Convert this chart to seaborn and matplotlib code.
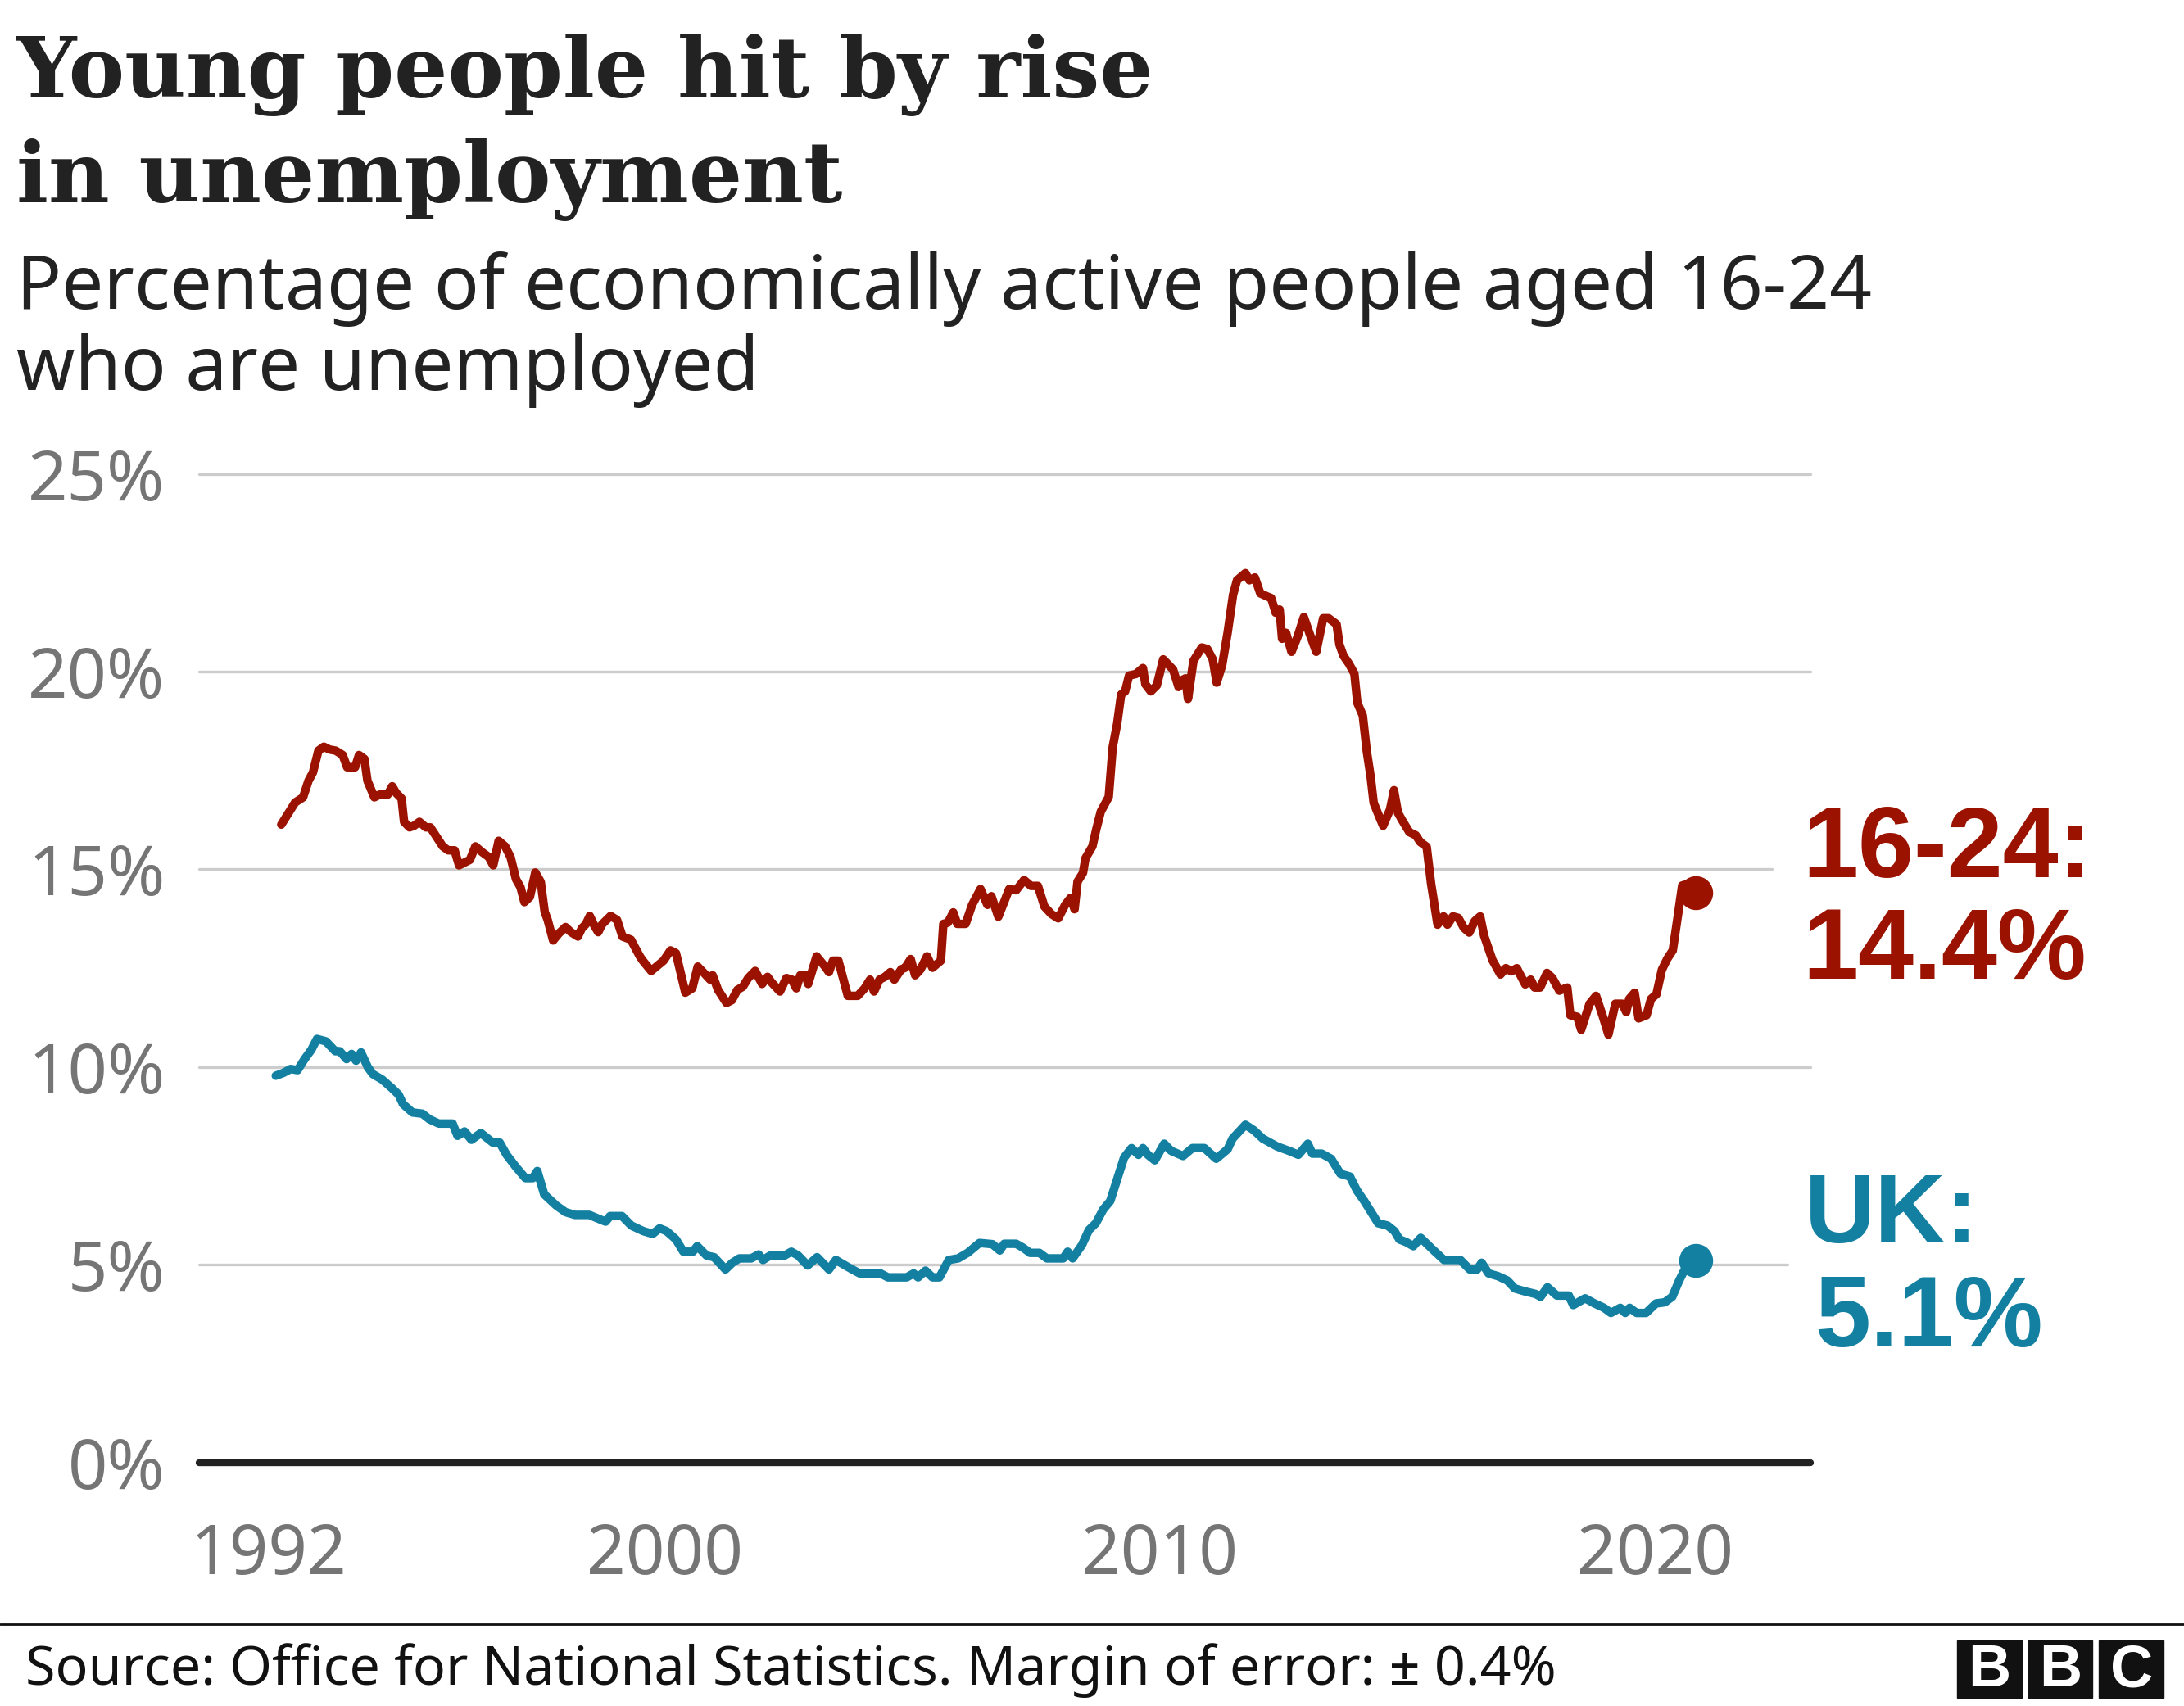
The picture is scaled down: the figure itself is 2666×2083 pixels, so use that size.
import matplotlib
matplotlib.use("Agg")
import matplotlib.pyplot as plt
import seaborn as sns
import pandas as pd
from matplotlib.patches import Rectangle
from matplotlib.lines import Line2D

# 16-24 unemployment rate (%), rolling three-month figures
young_year = [
    1992.26, 1992.40, 1992.54, 1992.70, 1992.81, 1992.90, 1993.01, 1993.12, 1993.23, 1993.36,
    1993.50, 1993.59, 1993.75, 1993.83, 1993.94, 1994.00, 1994.14, 1994.25, 1994.41, 1994.50,
    1994.58, 1994.69, 1994.74, 1994.85, 1994.94, 1995.05, 1995.18, 1995.27, 1995.41, 1995.52,
    1995.63, 1995.76, 1995.85, 1995.96, 1996.07, 1996.18, 1996.31, 1996.45, 1996.54, 1996.65,
    1996.78, 1996.89, 1997.00, 1997.09, 1997.17, 1997.28, 1997.39, 1997.50, 1997.58, 1997.64,
    1997.75, 1997.86, 1998.00, 1998.11, 1998.25, 1998.33, 1998.41, 1998.49, 1998.58, 1998.66,
    1998.74, 1998.91, 1999.04, 1999.15, 1999.32, 1999.50, 1999.56, 1999.73, 1999.98, 2000.12,
    2000.23, 2000.42, 2000.56, 2000.67, 2000.81, 2000.92, 2000.97, 2001.08, 2001.25, 2001.36,
    2001.47, 2001.58, 2001.69, 2001.83, 2001.97, 2002.08, 2002.16, 2002.33, 2002.46, 2002.57,
    2002.66, 2002.74, 2002.85, 2002.90, 2003.07, 2003.24, 2003.32, 2003.40, 2003.51, 2003.70,
    2003.90, 2004.04, 2004.15, 2004.23, 2004.34, 2004.45, 2004.56, 2004.64, 2004.78, 2004.86,
    2004.97, 2005.06, 2005.17, 2005.30, 2005.41, 2005.58, 2005.63, 2005.72, 2005.83, 2005.91,
    2006.08, 2006.21, 2006.38, 2006.52, 2006.60, 2006.74, 2006.96, 2007.10, 2007.26, 2007.40,
    2007.54, 2007.67, 2007.81, 2007.95, 2008.09, 2008.20, 2008.28, 2008.34, 2008.45, 2008.50,
    2008.64, 2008.72, 2008.81, 2008.97, 2009.05, 2009.14, 2009.22, 2009.30, 2009.38, 2009.52,
    2009.66, 2009.71, 2009.82, 2009.94, 2010.07, 2010.27, 2010.38, 2010.46, 2010.52, 2010.57,
    2010.68, 2010.85, 2010.96, 2011.07, 2011.15, 2011.26, 2011.37, 2011.48, 2011.56, 2011.73,
    2011.81, 2011.92, 2012.03, 2012.17, 2012.25, 2012.34, 2012.42, 2012.47, 2012.55, 2012.66,
    2012.78, 2012.91, 2013.02, 2013.16, 2013.30, 2013.41, 2013.57, 2013.63, 2013.71, 2013.82,
    2013.93, 2013.99, 2014.10, 2014.18, 2014.26, 2014.32, 2014.40, 2014.51, 2014.65, 2014.73,
    2014.81, 2014.90, 2015.04, 2015.17, 2015.26, 2015.39, 2015.48, 2015.61, 2015.73, 2015.81,
    2015.92, 2016.03, 2016.14, 2016.25, 2016.36, 2016.47, 2016.55, 2016.72, 2016.88, 2016.99,
    2017.10, 2017.21, 2017.38, 2017.49, 2017.57, 2017.68, 2017.82, 2017.93, 2018.07, 2018.23,
    2018.29, 2018.43, 2018.51, 2018.68, 2018.81, 2018.95, 2019.06, 2019.20, 2019.34, 2019.42,
    2019.48, 2019.59, 2019.67, 2019.83, 2019.92, 2020.03, 2020.14, 2020.25, 2020.36, 2020.47,
    2020.55, 2020.66, 2020.82,
]
young_rate = [
    16.13, 16.41, 16.69, 16.82, 17.24, 17.45, 18.00, 18.10, 18.03, 18.00,
    17.89, 17.58, 17.58, 17.89, 17.79, 17.24, 16.82, 16.89, 16.89, 17.10,
    16.93, 16.79, 16.20, 16.06, 16.10, 16.20, 16.06, 16.06, 15.79, 15.58,
    15.48, 15.48, 15.10, 15.17, 15.24, 15.58, 15.44, 15.31, 15.10, 15.72,
    15.58, 15.31, 14.75, 14.55, 14.17, 14.30, 14.92, 14.68, 13.92, 13.72,
    13.20, 13.37, 13.54, 13.41, 13.30, 13.51, 13.61, 13.82, 13.58, 13.41,
    13.61, 13.82, 13.72, 13.30, 13.22, 12.80, 12.69, 12.43, 12.69, 12.95,
    12.88, 11.88, 11.99, 12.54, 12.36, 12.21, 12.32, 11.95, 11.62, 11.69,
    11.95, 12.03, 12.25, 12.43, 12.10, 12.28, 12.14, 11.91, 12.25, 12.21,
    11.99, 12.32, 12.32, 12.10, 12.80, 12.54, 12.40, 12.69, 12.69, 11.80,
    11.80, 11.99, 12.21, 11.91, 12.21, 12.28, 12.40, 12.21, 12.47, 12.51,
    12.73, 12.32, 12.47, 12.80, 12.51, 12.69, 13.62, 13.65, 13.91, 13.62,
    13.62, 14.10, 14.50, 14.10, 14.32, 13.80, 14.50, 14.47, 14.73, 14.58,
    14.58, 14.06, 13.87, 13.76, 14.10, 14.28, 13.99, 14.69, 14.91, 15.28,
    15.58, 16.02, 16.46, 16.83, 18.09, 18.68, 19.42, 19.50, 19.90, 19.94,
    20.09, 19.68, 19.50, 19.65, 20.31, 20.05, 19.61, 19.79, 19.83, 19.31,
    20.27, 20.61, 20.57, 20.31, 19.72, 20.16, 20.98, 21.94, 22.31, 22.49,
    22.31, 22.38, 21.98, 21.90, 21.86, 21.49, 21.57, 20.83, 20.98, 20.50,
    20.87, 21.38, 20.98, 20.50, 21.35, 21.35, 21.20, 20.68, 20.40, 20.20,
    19.95, 19.21, 18.89, 17.99, 17.33, 16.68, 16.43, 16.10, 16.51, 17.00,
    16.43, 16.23, 15.94, 15.86, 15.69, 15.57, 14.63, 13.60, 13.81, 13.60,
    13.81, 13.77, 13.52, 13.40, 13.69, 13.81, 13.32, 12.70, 12.34, 12.50,
    12.42, 12.50, 12.09, 12.21, 12.01, 12.01, 12.38, 12.25, 11.93, 12.01,
    11.31, 11.27, 10.94, 11.60, 11.80, 11.27, 10.82, 11.60, 11.60, 11.39,
    11.72, 11.88, 11.23, 11.31, 11.72, 11.84, 12.46, 12.74, 12.95, 13.89,
    14.59, 14.63, 14.40,
]

# UK unemployment rate (%)
uk_year = [
    1992.15, 1992.30, 1992.45, 1992.59, 1992.73, 1992.87, 1992.98, 1993.16, 1993.35, 1993.44,
    1993.58, 1993.68, 1993.77, 1993.87, 1994.01, 1994.11, 1994.30, 1994.49, 1994.63, 1994.72,
    1994.91, 1995.11, 1995.25, 1995.44, 1995.72, 1995.82, 1995.96, 1996.10, 1996.29, 1996.53,
    1996.67, 1996.81, 1997.00, 1997.19, 1997.34, 1997.43, 1997.57, 1997.81, 1998.00, 1998.19,
    1998.48, 1998.67, 1998.81, 1998.90, 1999.14, 1999.33, 1999.57, 1999.76, 1999.90, 2000.04,
    2000.23, 2000.38, 2000.57, 2000.66, 2000.85, 2001.00, 2001.23, 2001.37, 2001.51, 2001.75,
    2001.90, 2001.99, 2002.13, 2002.42, 2002.56, 2002.70, 2002.89, 2003.08, 2003.32, 2003.46,
    2003.65, 2003.79, 2003.94, 2004.36, 2004.51, 2004.89, 2005.03, 2005.12, 2005.27, 2005.41,
    2005.55, 2005.74, 2005.93, 2006.12, 2006.36, 2006.62, 2006.77, 2006.86, 2007.10, 2007.24,
    2007.38, 2007.57, 2007.72, 2008.05, 2008.14, 2008.24, 2008.43, 2008.57, 2008.71, 2008.86,
    2009.00, 2009.14, 2009.28, 2009.43, 2009.57, 2009.66, 2009.76, 2009.90, 2010.09, 2010.23,
    2010.47, 2010.66, 2010.90, 2011.14, 2011.37, 2011.47, 2011.73, 2011.90, 2012.08, 2012.37,
    2012.61, 2012.80, 2012.99, 2013.08, 2013.27, 2013.46, 2013.65, 2013.84, 2013.98, 2014.13,
    2014.27, 2014.41, 2014.60, 2014.74, 2014.84, 2014.98, 2015.12, 2015.27, 2015.50, 2015.74,
    2016.07, 2016.26, 2016.41, 2016.50, 2016.64, 2016.83, 2017.02, 2017.17, 2017.36, 2017.59,
    2017.69, 2017.83, 2018.02, 2018.26, 2018.35, 2018.59, 2018.78, 2018.97, 2019.11, 2019.30,
    2019.40, 2019.49, 2019.63, 2019.82, 2020.02, 2020.20, 2020.35, 2020.49, 2020.63, 2020.82,
]
uk_rate = [
    9.78, 9.85, 9.95, 9.92, 10.20, 10.44, 10.71, 10.65, 10.40, 10.40,
    10.20, 10.33, 10.16, 10.37, 9.99, 9.82, 9.68, 9.47, 9.30, 9.06,
    8.85, 8.82, 8.68, 8.57, 8.57, 8.26, 8.37, 8.16, 8.33, 8.09,
    8.09, 7.78, 7.47, 7.19, 7.19, 7.37, 6.78, 6.50, 6.33, 6.26,
    6.26, 6.16, 6.09, 6.23, 6.23, 5.99, 5.85, 5.78, 5.92, 5.85,
    5.64, 5.33, 5.33, 5.47, 5.23, 5.19, 4.88, 5.05, 5.16, 5.16,
    5.26, 5.12, 5.23, 5.23, 5.33, 5.23, 4.98, 5.19, 4.88, 5.12,
    4.98, 4.88, 4.78, 4.78, 4.68, 4.68, 4.78, 4.68, 4.85, 4.68,
    4.68, 5.12, 5.16, 5.30, 5.55, 5.52, 5.36, 5.53, 5.53, 5.43,
    5.30, 5.30, 5.16, 5.16, 5.33, 5.16, 5.50, 5.88, 6.05, 6.40,
    6.61, 7.16, 7.71, 7.95, 7.78, 7.95, 7.78, 7.64, 8.06, 7.88,
    7.75, 7.95, 7.95, 7.68, 7.92, 8.19, 8.54, 8.40, 8.19, 7.99,
    7.88, 7.78, 8.06, 7.81, 7.81, 7.68, 7.30, 7.23, 6.88, 6.61,
    6.33, 6.05, 5.99, 5.85, 5.64, 5.57, 5.47, 5.68, 5.40, 5.12,
    5.12, 4.88, 4.88, 5.05, 4.78, 4.71, 4.60, 4.40, 4.33, 4.26,
    4.19, 4.43, 4.22, 4.22, 3.98, 4.15, 4.02, 3.91, 3.78, 3.91,
    3.78, 3.91, 3.78, 3.78, 4.02, 4.05, 4.19, 4.60, 4.95, 5.10,
]

y_ticks = [0, 5, 10, 15, 20, 25]
y_tick_labels = ["0%", "5%", "10%", "15%", "20%", "25%"]
x_ticks = [1992, 2000, 2010, 2020]
x_tick_labels = ["1992", "2000", "2010", "2020"]

RED = "#9b1300"
BLUE = "#1380a1"
DARK = "#222222"
GREY = "#757575"
LINE_W = 7.5

df_young = pd.DataFrame({"year": young_year, "rate": young_rate})
df_uk = pd.DataFrame({"year": uk_year, "rate": uk_rate})

sns.set_style("white")
plt.rcParams["font.family"] = ["Noto Sans", "DejaVu Sans"]
BOLD = ["Liberation Sans", "DejaVu Sans"]

W, H = 2666, 2083
fig = plt.figure(figsize=(W / 100, H / 100), dpi=100)
ax = fig.add_axes([243 / W, 1 - 1785.6 / H, (2210 - 243) / W, (1785.6 - 578.6) / H])


def fx(px):
    return px / W


def fy(py):
    return 1 - py / H


# gridlines (some stop short of the end labels)
grid_ends = {5: 0.986, 10: 1.0, 15: 0.976, 20: 1.0, 25: 1.0}
for val, end in grid_ends.items():
    ax.axhline(val, xmin=0, xmax=end, color="#cccccc", lw=2.4, zorder=1, clip_on=False)
ax.axhline(0, color=DARK, lw=6, zorder=2, clip_on=False)

n_before = len(ax.lines)
sns.lineplot(data=df_young, x="year", y="rate", ax=ax, color=RED, zorder=3, clip_on=False)
sns.lineplot(data=df_uk, x="year", y="rate", ax=ax, color=BLUE, zorder=3, clip_on=False)
for line in ax.lines[n_before:]:
    line.set_linewidth(LINE_W)
    line.set_solid_joinstyle("round")
    line.set_solid_capstyle("round")
ax.scatter([young_year[-1]], [young_rate[-1]], s=830, color=RED, zorder=4, clip_on=False)
ax.scatter([uk_year[-1]], [uk_rate[-1]], s=830, color=BLUE, zorder=4, clip_on=False)

ax.set_xlim(1990.60, 2023.14)
ax.set_ylim(0, 25)
ax.set_xticks(x_ticks)
ax.set_xticklabels(x_tick_labels)
ax.set_yticks(y_ticks)
ax.set_yticklabels(y_tick_labels)
ax.set_xlabel("")
ax.set_ylabel("")
ax.tick_params(axis="y", length=0, pad=30, labelsize=61, labelcolor=GREY)
ax.tick_params(axis="x", length=24, width=1.6, color=DARK, pad=28,
               labelsize=60, labelcolor=GREY, direction="out")
for s in ax.spines.values():
    s.set_visible(False)
ax.patch.set_alpha(0)

# titles
fig.text(fx(20), fy(119), "Young people hit by rise", fontsize=74, fontweight="bold",
         family=["DejaVu Serif"], color=DARK, va="baseline")
fig.text(fx(20), fy(247), "in unemployment", fontsize=74, fontweight="bold",
         family=["DejaVu Serif"], color=DARK, va="baseline")
fig.text(fx(20), fy(377), "Percentage of economically active people aged 16-24",
         fontsize=65.5, color=DARK, va="baseline")
fig.text(fx(20), fy(476), "who are unemployed", fontsize=65.5, color=DARK, va="baseline")

# end labels
fig.text(fx(2200), fy(1071), "16-24:", fontsize=88, fontweight="bold", family=BOLD,
         color=RED, va="baseline")
fig.text(fx(2200), fy(1195), "14.4%", fontsize=88, fontweight="bold", family=BOLD,
         color=RED, va="baseline")
fig.text(fx(2203), fy(1517), "UK:", fontsize=86, fontweight="bold", family=BOLD,
         color=BLUE, va="baseline")
fig.text(fx(2215), fy(1644), "5.1%", fontsize=88, fontweight="bold", family=BOLD,
         color=BLUE, va="baseline")

# footer
fig.add_artist(Line2D([0, 1], [fy(1983), fy(1983)], color="#111111", lw=2))
fig.text(fx(31), fy(2057), "Source: Office for National Statistics. Margin of error: \u00b1 0.4%",
         fontsize=47.8, color="#111111", va="baseline")

bw, gap = 78.7, 8
for i, letter in enumerate("BBC"):
    x0 = 2389 + i * (bw + gap)
    fig.add_artist(Rectangle((fx(x0), fy(2073)), bw / W, 70 / H, color="#111111",
                             transform=fig.transFigure))
    fig.text(fx(x0 + bw / 2), fy(2040), letter, fontsize=52, fontweight="bold",
             family=BOLD, color="white", ha="center", va="center")

fig.savefig("out.png", dpi=100, facecolor="white")
